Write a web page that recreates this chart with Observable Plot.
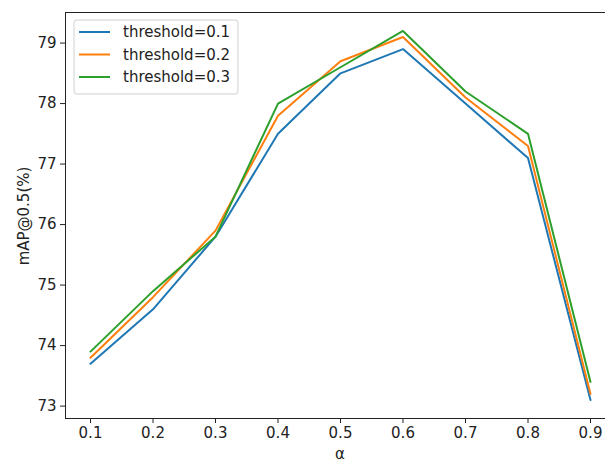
<!DOCTYPE html>
<html>
<head>
<meta charset="utf-8">
<script src="https://cdn.jsdelivr.net/npm/d3@7"></script>
<script src="https://cdn.jsdelivr.net/npm/@observablehq/plot@0.6"></script>
<style>
  html, body { margin: 0; padding: 0; background: #fff; }
  #chart { width: 605px; height: 463px; }
</style>
</head>
<body>
<div id="chart"></div>
<script>
const alphas = [0.1, 0.2, 0.3, 0.4, 0.5, 0.6, 0.7, 0.8, 0.9];
const seriesNames = ["threshold=0.1", "threshold=0.2", "threshold=0.3"];
const t01 = [73.7, 74.6, 75.8, 77.5, 78.5, 78.9, 78.0, 77.1, 73.1];
const t02 = [73.8, 74.8, 75.9, 77.8, 78.7, 79.1, 78.1, 77.3, 73.2];
const t03 = [73.9, 74.9, 75.8, 78.0, 78.6, 79.2, 78.2, 77.5, 73.4];
const colors = ["#1f77b4", "#ff7f0e", "#2ca02c"];
const yTicks = [73, 74, 75, 76, 77, 78, 79];

const allSeries = [t01, t02, t03];
const data = [];
allSeries.forEach((vals, si) => vals.forEach((v, i) => data.push({a: alphas[i], v, s: seriesNames[si]})));

const font = "DejaVu Sans, sans-serif";
const fs = 15;
const plot = Plot.plot({
  width: 605,
  height: 463,
  marginLeft: 65,
  marginRight: -10,
  marginTop: 12,
  marginBottom: 45,
  style: {fontFamily: font, fontSize: fs + "px", color: "#222", background: "#fff"},
  x: {domain: [0.06, 0.94], ticks: alphas, tickFormat: d3.format(".1f"), label: null},
  y: {domain: [72.795, 79.505], ticks: yTicks, tickFormat: d3.format("d"), label: null},
  color: {domain: seriesNames, range: colors},
  marks: [
    Plot.frame({stroke: "#222", strokeWidth: 1}),
    Plot.axisX({ticks: alphas, tickFormat: d3.format(".1f"), tickSize: 5, tickPadding: 4, label: null, fontSize: fs, stroke: "#222"}),
    Plot.axisY({ticks: yTicks, tickFormat: d3.format("d"), tickSize: 5, tickPadding: 4, label: null, fontSize: fs, stroke: "#222"}),
    Plot.line(data, {x: "a", y: "v", z: "s", stroke: "s", strokeWidth: 2, strokeLinejoin: "miter"})
  ]
});
document.getElementById("chart").appendChild(plot);

const svg = d3.select(plot);
// axis titles
svg.append("text").attr("x", 340).attr("y", 459).attr("text-anchor", "middle")
  .attr("font-family", font).attr("font-size", fs).attr("fill", "#222").text("α");
svg.append("text").attr("transform", "translate(29,216) rotate(-90)").attr("text-anchor", "middle")
  .attr("font-family", font).attr("font-size", fs).attr("fill", "#222").text("mAP@0.5(%)");

// legend
const lg = svg.append("g");
lg.append("rect").attr("x", 74).attr("y", 20).attr("width", 164).attr("height", 74)
  .attr("rx", 3).attr("fill", "#fff").attr("fill-opacity", 0.8).attr("stroke", "#d0d0d0");
seriesNames.forEach((name, i) => {
  const y = 32 + i * 22.5;
  lg.append("line").attr("x1", 79).attr("x2", 110).attr("y1", y).attr("y2", y)
    .attr("stroke", colors[i]).attr("stroke-width", 2);
  lg.append("text").attr("x", 123).attr("y", y).attr("dy", "0.35em").attr("text-anchor", "start")
    .attr("font-family", font).attr("font-size", fs).attr("fill", "#222").text(name);
});
</script>
</body>
</html>
